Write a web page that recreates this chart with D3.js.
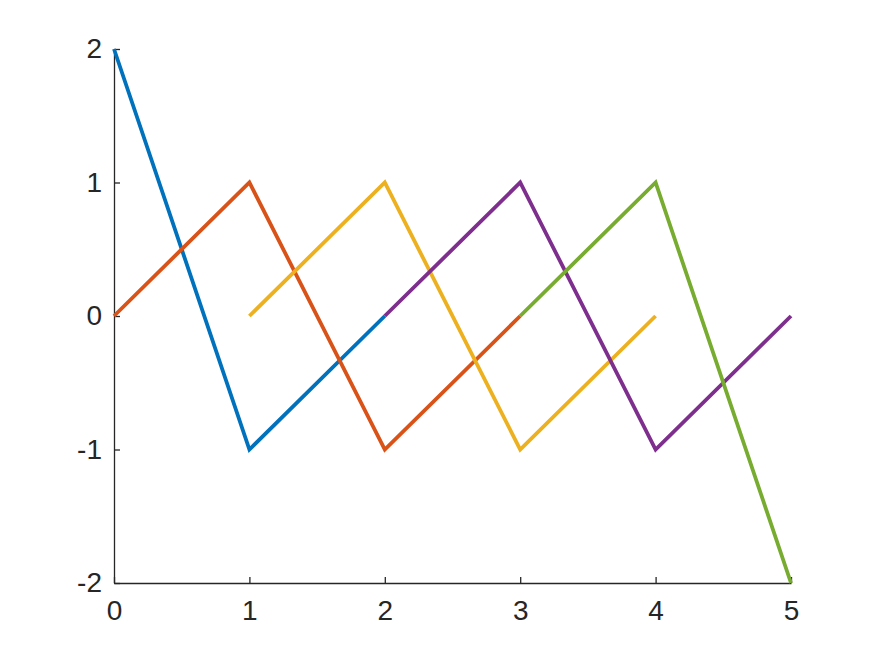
<!DOCTYPE html>
<html>
<head>
<meta charset="utf-8">
<script src="https://cdn.jsdelivr.net/npm/d3@7"></script>
<style>
  body { margin: 0; background: #fff; }
  svg { display: block; font-family: "Liberation Sans", Arial, sans-serif; }
</style>
</head>
<body>
<svg id="chart" width="875" height="656"></svg>
<script>
const xTicks = [0, 1, 2, 3, 4, 5];
const yTicks = [-2, -1, 0, 1, 2];

const blue   = [[0, 2], [1, -1], [2, 0]];
const orange = [[0, 0], [1, 1], [2, -1], [3, 0]];
const yellow = [[1, 0], [2, 1], [3, -1], [4, 0]];
const purple = [[2, 0], [3, 1], [4, -1], [5, 0]];
const green  = [[3, 0], [4, 1], [5, -2]];

const series = [
  { values: blue, color: '#0072BD' },
  { values: orange, color: '#D95319' },
  { values: yellow, color: '#EDB120' },
  { values: purple, color: '#7E2F8E' },
  { values: green, color: '#77AC30' }
];

const svg = d3.select('#chart');
const x = d3.scaleLinear().domain([0, 5]).range([114, 791]);
const y = d3.scaleLinear().domain([-2, 2]).range([583, 49]);
const axisColor = '#262626';
const fmt = d => String(d);

// x axis
const gx = svg.append('g')
  .attr('transform', `translate(0,${y(-2)})`)
  .call(d3.axisBottom(x).tickValues(xTicks).tickFormat(fmt).tickSizeInner(-6).tickSizeOuter(0).tickPadding(17));
// y axis
const gy = svg.append('g')
  .attr('transform', `translate(${x(0)},0)`)
  .call(d3.axisLeft(y).tickValues(yTicks).tickFormat(fmt).tickSizeInner(-6).tickSizeOuter(0).tickPadding(12));

[gx, gy].forEach(g => {
  g.attr('font-size', 28).attr('font-family', '"Liberation Sans", Arial, sans-serif');
  g.select('.domain').attr('stroke', axisColor).attr('stroke-width', 1.3);
  g.selectAll('.tick line').attr('stroke', axisColor).attr('stroke-width', 1.3);
  g.selectAll('.tick text').attr('fill', axisColor);
});

const line = d3.line()
  .x(d => x(d[0]))
  .y(d => y(d[1]));

series.forEach(s => {
  svg.append('path')
    .datum(s.values)
    .attr('fill', 'none')
    .attr('stroke', s.color)
    .attr('stroke-width', 3.8)
    .attr('d', line);
});
</script>
</body>
</html>
